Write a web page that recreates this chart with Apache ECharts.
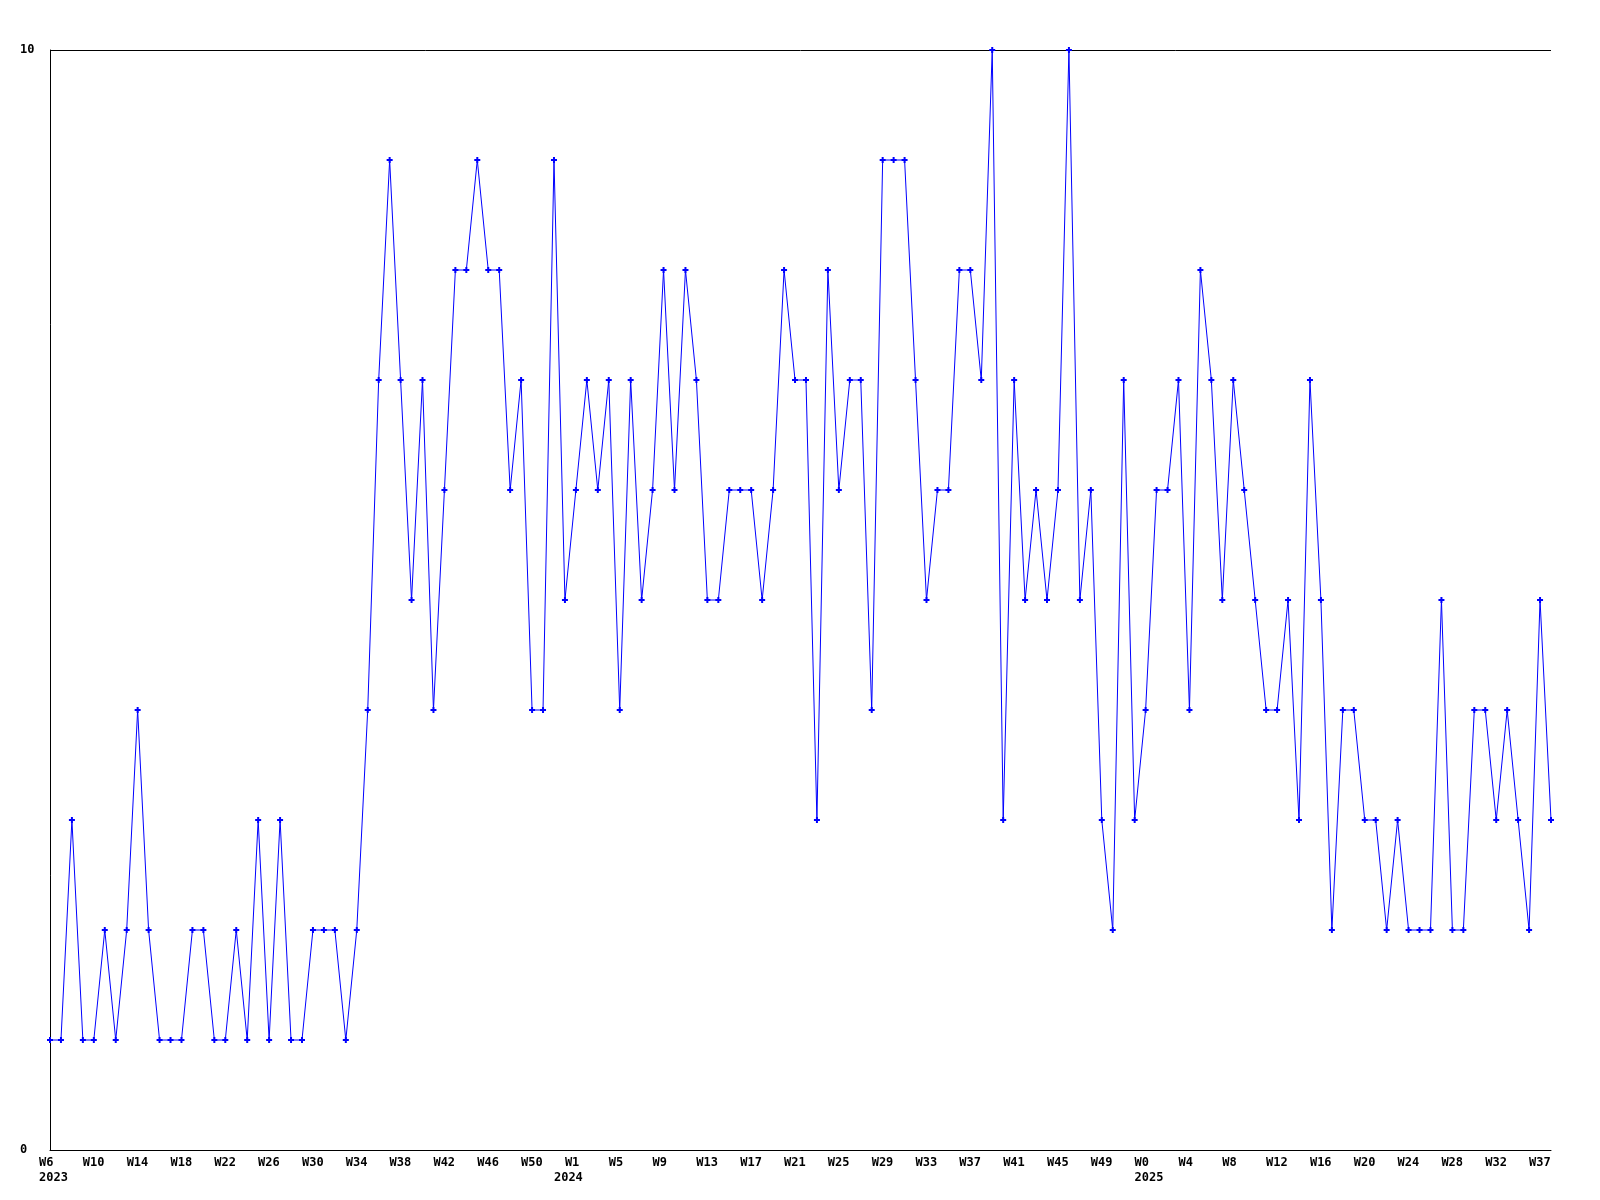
<!DOCTYPE html>
<html>
<head>
<meta charset="utf-8">
<script src="https://cdn.jsdelivr.net/npm/echarts@6/dist/echarts.min.js"></script>
<style>
html,body{margin:0;padding:0;background:#fff;}
#chart{width:1600px;height:1200px;}
</style>
</head>
<body>
<div id="chart"></div>
<script>
// Week categories per year
const weeks2023 = ["W6","W7","W8","W9","W10","W11","W12","W13","W14","W15","W16","W17","W18","W19","W20","W21","W22","W23","W24","W25","W26","W27","W28","W29","W30","W31","W32","W33","W34","W35","W36","W37","W38","W39","W40","W41","W42","W43","W44","W45","W46","W47","W48","W49","W50","W51","W52"];
const weeks2024 = ["W0","W1","W2","W3","W4","W5","W6","W7","W8","W9","W10","W11","W12","W13","W14","W15","W16","W17","W18","W19","W20","W21","W22","W23","W24","W25","W26","W27","W28","W29","W30","W31","W32","W33","W34","W35","W36","W37","W38","W39","W40","W41","W42","W43","W44","W45","W46","W47","W48","W49","W50","W51","W52"];
const weeks2025 = ["W0","W1","W2","W3","W4","W5","W6","W7","W8","W9","W10","W11","W12","W13","W14","W15","W16","W17","W18","W19","W20","W21","W22","W23","W24","W25","W26","W27","W28","W29","W30","W31","W32","W33","W34","W35","W37","W38"];
const years = ["2023","2024","2025"];

// Series values
const values = [
  1,1,3,1,1,2,1,2,4,2,1,1,1,2,2,1,1,2,1,3,1,3,1,1,2,2,2,1,2,
  4,7,9,7,5,7,4,6,8,8,9,8,8,6,7,4,4,9,5,6,7,6,7,4,7,5,6,8,
  6,8,7,5,5,6,6,6,5,6,8,7,7,3,8,6,7,7,4,9,9,9,7,5,6,6,8,8,7,
  10,3,7,5,6,5,6,10,5,6,3,2,7,3,4,6,6,7,4,8,7,5,7,6,5,4,4,5,
  3,7,5,2,4,4,3,3,2,3,2,2,2,5,2,2,4,4,3,4,3,2,5,3
];

// Y axis range / ticks
const yMin = 0, yMax = 10, yStep = 10;

const categories = [];
const yearStart = {};
[weeks2023, weeks2024, weeks2025].forEach((arr, yi) => {
  yearStart[categories.length] = years[yi];
  arr.forEach((w) => categories.push(w));
});

const font = "'DejaVu Sans Mono', monospace";
const labelBase = {
  align: 'left',
  padding: [0, 0, 0, -11],
  fontFamily: font,
  fontWeight: 'bold',
  fontSize: 12,
  color: '#000'
};
const chart = echarts.init(document.getElementById('chart'), null, {renderer: 'canvas'});
chart.setOption({
  animation: false,
  backgroundColor: '#ffffff',
  grid: {left: 50, right: 49, top: 50, bottom: 50, containLabel: false},
  xAxis: [{
    type: 'category',
    data: categories,
    boundaryGap: false,
    axisLine: {show: true, lineStyle: {color: '#000', width: 1}},
    axisTick: {show: false},
    splitLine: {show: false},
    axisLabel: Object.assign({interval: 3, margin: 7}, labelBase)
  }, {
    type: 'category',
    data: categories,
    position: 'bottom',
    boundaryGap: false,
    axisLine: {show: false},
    axisTick: {show: false},
    splitLine: {show: false},
    axisLabel: Object.assign({
      margin: 22,
      interval: function (i) { return yearStart[i] !== undefined; },
      formatter: function (v, i) { return yearStart[i] || ''; }
    }, labelBase)
  }],
  yAxis: {
    type: 'value',
    min: yMin, max: yMax, interval: yStep,
    axisLine: {show: true, lineStyle: {color: '#000', width: 1}},
    axisTick: {show: false},
    splitLine: {show: true, lineStyle: {color: '#000', width: 1}},
    axisLabel: {
      margin: 30,
      align: 'left',
      padding: [4, 0, 0, 0],
      fontFamily: font,
      fontWeight: 'bold',
      fontSize: 12,
      color: '#000'
    }
  },
  series: [{
    type: 'line',
    xAxisIndex: 0,
    data: values,
    symbol: 'path://M2,0H4V2H6V4H4V6H2V4H0V2H2Z',
    symbolSize: 6,
    showAllSymbol: true,
    lineStyle: {color: '#0000ff', width: 1},
    itemStyle: {color: '#0000ff'},
    emphasis: {disabled: true}
  }]
});
</script>
</body>
</html>
